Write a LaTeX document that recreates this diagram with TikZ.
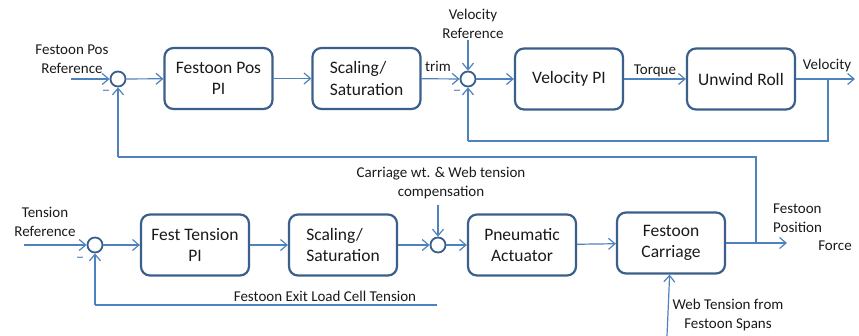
\documentclass[tikz,border=0pt]{standalone}
\usepackage{fontspec}
\setmainfont{Carlito}
\usetikzlibrary{arrows.meta}
\definecolor{lineblue}{HTML}{4F81BD}
\definecolor{boxblue}{HTML}{3A5F8B}
\definecolor{txt}{HTML}{1A1A1A}
\begin{document}
\begin{tikzpicture}[x=1pt,y=-1pt,
  blk/.style={draw=boxblue, line width=2.2pt, rounded corners=9pt, align=center,
    font=\fontsize{17.5}{21.5}\selectfont, text=txt, inner sep=0pt,
    minimum width=108pt, minimum height=61pt},
  sumc/.style={circle, draw=boxblue, line width=1.8pt, minimum size=15pt, inner sep=0pt},
  lbl/.style={font=\fontsize{15}{18.5}\selectfont, text=txt, align=center, inner sep=0pt},
  conn/.style={draw=lineblue, line width=1.2pt, -{Straight Barb[length=6.5pt,width=11pt]}},
  wire/.style={draw=lineblue, line width=1.2pt}]
\useasboundingbox (0,0) rectangle (859,336);
% top row
\node[sumc] (s1) at (118,79) {};
\node[blk] (b1) at (218.5,78.5) {Festoon Pos\\PI};
\node[blk, align=left] (b2) at (366.5,78.5) {Scaling/\\Saturation};
\node[sumc] (s2) at (468,79) {};
\node[blk] (b3) at (569,79) {Velocity PI};
\node[blk] (b4) at (741,79) {Unwind Roll};
\coordinate (in1) at (71,79);
\coordinate (vref) at (468,40);
\coordinate (vout) at (855,79);
\coordinate (fb1a) at (828,79);
\coordinate (fb1b) at (828,141);
\coordinate (fb1c) at (468,141);
% bottom row
\node[sumc] (s3) at (95,245) {};
\node[blk] (b5) at (195,245) {Fest Tension\\PI};
\node[blk, align=left] (b6) at (343,245) {Scaling/\\Saturation};
\node[sumc] (s4) at (438,245) {};
\node[blk] (b7) at (522,245) {Pneumatic\\Actuator};
\node[blk] (b8) at (671,243) {Festoon\\Carriage};
\coordinate (in2) at (24,245);
\coordinate (comp) at (438,205);
\coordinate (fout) at (787,243);
\coordinate (web) at (667,336);
\coordinate (j1) at (756,243);
\coordinate (j2) at (756,157);
\coordinate (j3) at (118,157);
\coordinate (lc1) at (437,305);
\coordinate (lc2) at (95,305);
% connectors top
\draw[conn] (in1) -- (s1);
\draw[conn] (s1) -- (b1);
\draw[conn] (b1) -- (b2);
\draw[conn] (b2) -- (s2);
\draw[conn] (vref) -- (s2);
\draw[conn] (s2) -- (b3);
\draw[conn] (b3) -- (b4);
\draw[conn] (b4) -- (vout);
\draw[wire] (fb1a) -- (fb1b) -- (fb1c);
\draw[conn] (fb1c) -- (s2);
% connectors bottom
\draw[conn] (in2) -- (s3);
\draw[conn] (s3) -- (b5);
\draw[conn] (b5) -- (b6);
\draw[conn] (b6) -- (s4);
\draw[conn] (comp) -- (s4);
\draw[conn] (s4) -- (b7);
\draw[conn] (b7) -- (b8);
\draw[conn] (b8) -- (fout);
\draw[conn] (web) -- (b8);
\draw[wire] (j1) -- (j2) -- (j3);
\draw[conn] (j3) -- (s1);
\draw[wire] (lc1) -- (lc2);
\draw[conn] (lc2) -- (s3);
% labels
\node[lbl] (l1) at (72,59) {Festoon Pos\\Reference};
\node[lbl] (l2) at (473,24) {Velocity\\Reference};
\node[lbl] (l3) at (438,66) {trim};
\node[lbl] (l4) at (655,71) {Torque};
\node[lbl] (l5) at (827,66) {Velocity};
\node[lbl] (l6) at (45,222) {Tension\\Reference};
\node[lbl] (l7) at (441,183) {Carriage wt. \& Web tension\\compensation};
\node[lbl] (l8) at (325,296) {Festoon Exit Load Cell Tension};
\node[lbl, align=left, anchor=west] (l9) at (773,218) {Festoon\\Position};
\node[lbl] (l10) at (835,246) {Force};
\node[lbl] (l11) at (728,315) {Web Tension from\\Festoon Spans};
\node[lbl, text=lineblue, font=\fontsize{17}{20}\selectfont] (m1) at (106,93) {–};
\node[lbl, text=lineblue, font=\fontsize{17}{20}\selectfont] (m2) at (457,93) {–};
\node[lbl, text=lineblue, font=\fontsize{17}{20}\selectfont] (m3) at (80,260) {–};
\end{tikzpicture}
\end{document}
